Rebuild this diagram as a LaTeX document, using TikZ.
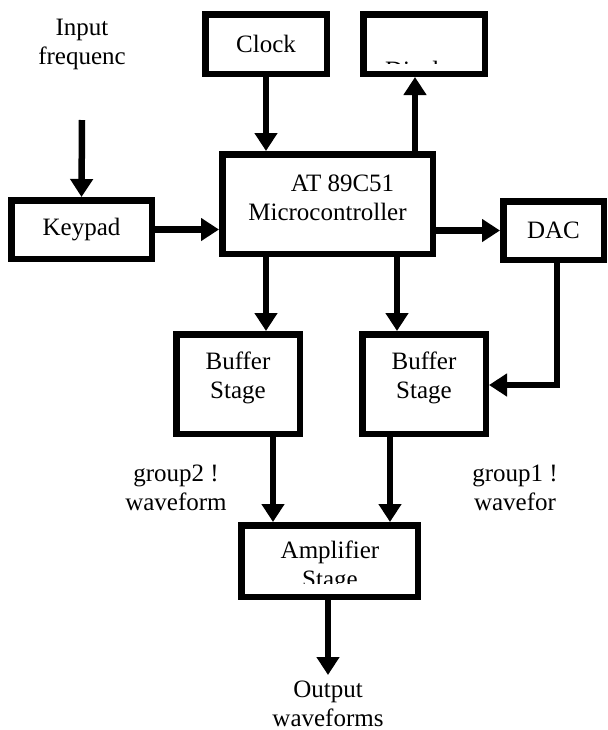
\documentclass[tikz,border=0pt]{standalone}
\usepackage{fontspec}
\setmainfont{Liberation Serif}
\usetikzlibrary{positioning}
\usetikzlibrary{arrows.meta}

\begin{document}
\begin{tikzpicture}[x = 0.5pt, y = -0.5pt,
	every node/.style = {font = \fontsize{12.5}{14.5}\selectfont},
	box/.style = {draw, line width = 3.25pt, inner sep = 0pt},
	arr/.style = {line width = 3.25pt, -{Triangle[length = 9pt, width = 11pt]}},
	txt/.style = {align = center, inner sep = 0pt}]
							\useasboundingbox (0, 0) rectangle (608, 730);
							\node [box, minimum width = 60.75pt, minimum height = 29.75pt] (clock) at (266, 44) {Clock};
							\node [box, minimum width = 60.75pt, minimum height = 29.75pt] (disp) at (424, 44) {};
							\node [box, minimum width = 105.25pt, minimum height = 49.75pt] (micro) at (327.5, 204) {};
							\node [box, minimum width = 70.25pt, minimum height = 29.25pt] (key) at (81.5, 229.5) {Keypad};
							\node [box, minimum width = 50.25pt, minimum height = 29.25pt] (dac) at (553.5, 230.5) {DAC};
							\node [box, minimum width = 61.75pt, minimum height = 49.75pt] (buf2) at (238, 384) {};
							\node [box, minimum width = 61.75pt, minimum height = 49.75pt] (buf1) at (424, 384) {};
							\node [box, minimum width = 88.25pt, minimum height = 35.75pt] (amp) at (329.5, 561) {};
							\node [txt] (microtxt) at (327.5, 198) {\hspace*{15pt}AT 89C51\\Microcontroller};
							\node [txt] (buf2txt) at (238, 378) {Buffer\\Stage};
							\node [txt] (buf1txt) at (424, 378) {Buffer\\Stage};
							\begin{scope}
								\clip (360, 11) rectangle (488, 63.5);
								\node [anchor = base] (disptxt) at (424, 78) {Display};
							\end{scope}
							\begin{scope}
								\clip (238, 522) rectangle (421, 583);
								\node [txt] (amptxt) at (330, 567) {Amplifier\\Stage};
							\end{scope}
							\node [txt] (inptxt) at (82, 44) {Input\\frequenc};
							\node [txt] (grp2) at (176, 488) {group2 !\\waveform};
							\node [txt] (grp1) at (515, 488) {group1 !\\wavefor};
							\node [txt] (outtxt) at (328, 704) {Output\\waveforms};
							\coordinate (inp) at (82, 120);
							\coordinate (out) at (328, 675);
							\draw [arr] (inp) -- (key.north);
							\draw [arr] (clock.south) -- (micro.north -| clock.south);
							\draw [arr] (micro.north -| 415, 0) -- (disp.south -| 415, 0);
							\draw [arr] (key.east) -- (micro.west |- key.east);
							\draw [arr] (micro.east |- dac.west) -- (dac.west);
							\draw [arr] (micro.south -| 266, 0) -- (buf2.north -| 266, 0);
							\draw [arr] (micro.south -| 397, 0) -- (buf1.north -| 397, 0);
							\draw [arr] (dac.south -| 557, 0) |- (buf1.east |- 0, 385);
							\draw [arr] (buf2.south -| 273, 0) -- (amp.north -| 273, 0);
							\draw [arr] (buf1.south -| 390, 0) -- (amp.north -| 390, 0);
							\draw [arr] (amp.south -| out) -- (out);
						\end{tikzpicture}
\end{document}
